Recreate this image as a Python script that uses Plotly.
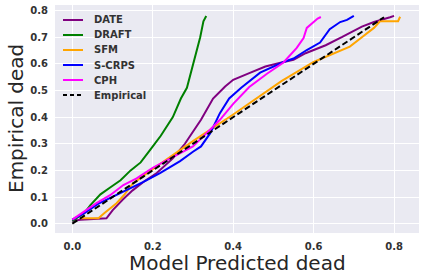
import plotly.graph_objects as go

# ---- data ----
date_x = [0.0, 0.02, 0.085, 0.10, 0.125, 0.15, 0.18, 0.21, 0.25, 0.28, 0.32, 0.35, 0.38, 0.40, 0.44, 0.48, 0.52, 0.55, 0.58, 0.63, 0.67, 0.72, 0.75, 0.77, 0.79, 0.80]
date_y = [0.01, 0.015, 0.02, 0.05, 0.09, 0.125, 0.16, 0.19, 0.245, 0.30, 0.39, 0.47, 0.515, 0.54, 0.565, 0.59, 0.605, 0.615, 0.64, 0.67, 0.70, 0.74, 0.757, 0.765, 0.775, 0.78]

draft_x = [0.0, 0.03, 0.045, 0.07, 0.095, 0.12, 0.145, 0.17, 0.195, 0.22, 0.25, 0.27, 0.285, 0.30, 0.31, 0.318, 0.326, 0.333]
draft_y = [0.01, 0.04, 0.07, 0.11, 0.137, 0.163, 0.20, 0.23, 0.28, 0.33, 0.40, 0.47, 0.51, 0.60, 0.65, 0.70, 0.76, 0.78]

sfm_x = [0.02, 0.065, 0.08, 0.11, 0.13, 0.15, 0.20, 0.30, 0.40, 0.45, 0.52, 0.60, 0.64, 0.69, 0.72, 0.75, 0.765, 0.81, 0.815]
sfm_y = [0.02, 0.02, 0.04, 0.077, 0.11, 0.15, 0.205, 0.31, 0.41, 0.463, 0.535, 0.607, 0.633, 0.665, 0.70, 0.735, 0.76, 0.76, 0.777]

scrps_x = [0.0, 0.03, 0.065, 0.094, 0.135, 0.177, 0.218, 0.268, 0.30, 0.32, 0.343, 0.367, 0.39, 0.42, 0.467, 0.525, 0.55, 0.583, 0.616, 0.64, 0.666, 0.683, 0.70]
scrps_y = [0.015, 0.04, 0.075, 0.096, 0.126, 0.157, 0.19, 0.235, 0.27, 0.29, 0.34, 0.415, 0.47, 0.51, 0.567, 0.607, 0.62, 0.652, 0.68, 0.73, 0.757, 0.765, 0.78]

cph_x = [0.0, 0.01, 0.036, 0.06, 0.094, 0.127, 0.16, 0.20, 0.25, 0.30, 0.334, 0.367, 0.40, 0.44, 0.484, 0.525, 0.558, 0.575, 0.583, 0.60, 0.61, 0.618]
cph_y = [0.015, 0.025, 0.05, 0.077, 0.107, 0.145, 0.17, 0.21, 0.25, 0.29, 0.34, 0.39, 0.45, 0.513, 0.563, 0.605, 0.66, 0.697, 0.735, 0.757, 0.77, 0.776]

emp_x = [0.0, 0.775]
emp_y = [0.0, 0.775]

x_ticks = [0.0, 0.2, 0.4, 0.6, 0.8]
y_ticks = [0.0, 0.1, 0.2, 0.3, 0.4, 0.5, 0.6, 0.7, 0.8]

series_names = ["DATE", "DRAFT", "SFM", "S-CRPS", "CPH", "Empirical"]
series_x = [date_x, draft_x, sfm_x, scrps_x, cph_x, emp_x]
series_y = [date_y, draft_y, sfm_y, scrps_y, cph_y, emp_y]
series_colors = ["purple", "green", "orange", "blue", "magenta", "black"]
series_dash = ["solid", "solid", "solid", "solid", "solid", "6px,3px"]

# figure geometry (pixels)
W, H = 424, 280
ML, MR, MT, MB = 55, 5, 5, 47
PW, PH = W - ML - MR, H - MT - MB

def px_to_paper_x(px):
    return (px - ML) / PW

def px_to_paper_y(py):
    return (H - MB - py) / PH

fig = go.Figure()
for name, xs, ys, col, dash in zip(series_names, series_x, series_y, series_colors, series_dash):
    fig.add_trace(go.Scatter(x=xs, y=ys, mode="lines", name=name, showlegend=False,
                             line=dict(color=col, width=2, dash=dash)))

tick_font = dict(family="DejaVu Sans", size=10, color="#333333", weight="bold")
title_font = dict(family="DejaVu Sans", size=20, color="#262626")
legend_font = dict(family="DejaVu Sans", size=10, color="#333333", weight="bold")

# hand-drawn legend (matplotlib-like compact spacing)
shapes = []
annotations = []
for i, (name, col, dash) in enumerate(zip(series_names, series_colors, series_dash)):
    py = 20 + 15 * i
    yp = px_to_paper_y(py)
    shapes.append(dict(type="line", xref="paper", yref="paper",
                       x0=px_to_paper_x(63), x1=px_to_paper_x(83), y0=yp, y1=yp,
                       line=dict(color=col, width=2, dash=("4px,3px" if dash != "solid" else "solid"))))
    annotations.append(dict(text=name, xref="paper", yref="paper", x=px_to_paper_x(92), y=yp,
                            xanchor="left", yanchor="middle", showarrow=False, font=legend_font))

annotations.append(dict(text="Model Predicted dead", xref="paper", yref="paper", x=0.5,
                        y=px_to_paper_y(249), xanchor="center", yanchor="top", showarrow=False,
                        font=title_font))
annotations.append(dict(text="Empirical dead", xref="paper", yref="paper", x=px_to_paper_x(16),
                        y=0.5, xanchor="center", yanchor="middle", textangle=-90, showarrow=False,
                        font=title_font))

fig.update_layout(
    width=W, height=H,
    margin=dict(l=ML, r=MR, t=MT, b=MB),
    paper_bgcolor="white",
    plot_bgcolor="#EAEAF2",
    showlegend=False,
    xaxis=dict(range=[-0.043, 0.862], tickvals=x_ticks, ticktext=[f"{v:.1f}" for v in x_ticks],
               showgrid=True, gridcolor="white", gridwidth=1, zeroline=False,
               showline=False, tickfont=tick_font, ticklabelstandoff=6, automargin=False),
    yaxis=dict(range=[-0.035, 0.821], tickvals=y_ticks, ticktext=[f"{v:.1f}" for v in y_ticks],
               showgrid=True, gridcolor="white", gridwidth=1, zeroline=False,
               showline=False, tickfont=tick_font, ticklabelstandoff=6, automargin=False),
    shapes=shapes,
    annotations=annotations,
)

fig.write_html("out.html", config={"displayModeBar": False},
               post_script="document.body.style.margin='0';")
